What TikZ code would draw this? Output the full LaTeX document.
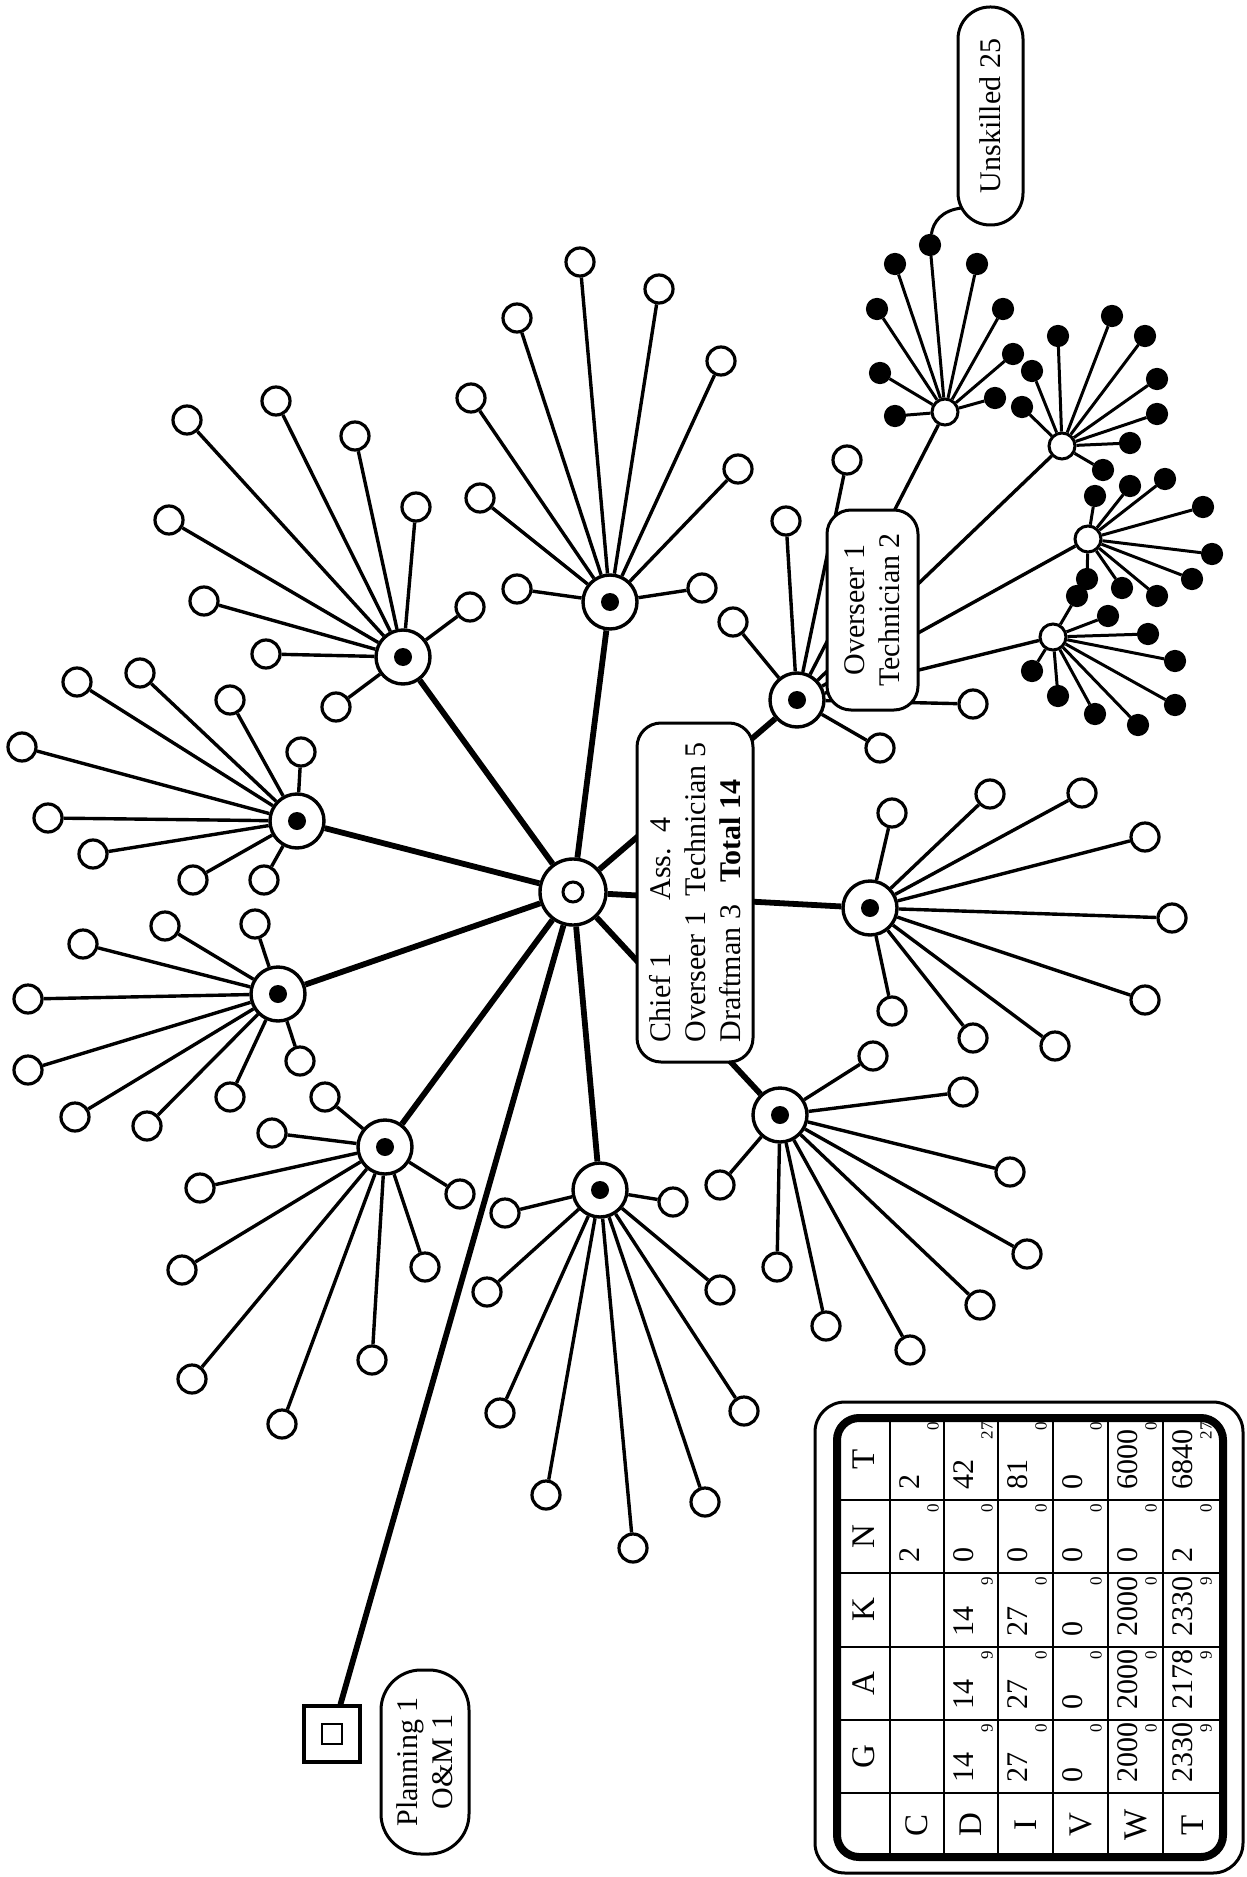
\documentclass[tikz,border=0pt]{standalone}
\usepackage{fontspec}
\setmainfont{Liberation Serif}
\begin{document}
\begin{tikzpicture}[x=0.5pt,y=-0.5pt,
  leaf/.style={circle,draw,line width=1.6pt,fill=white,minimum size=14pt,inner sep=0pt},
  hub/.style={circle,draw,line width=1.7pt,fill=white,minimum size=27pt,inner sep=0pt},
  hubdot/.style={circle,fill=black,minimum size=9pt,inner sep=0pt},
  subhub/.style={circle,draw,line width=1.5pt,fill=white,minimum size=13pt,inner sep=0pt},
  blk/.style={circle,draw,fill=black,line width=0.6pt,minimum size=10.5pt,inner sep=0pt},
  mainline/.style={line width=2.9pt},
  leafline/.style={line width=1.7pt},
  blkline/.style={line width=1.5pt},
  tag/.style={draw,rounded corners=12pt,line width=1.5pt,fill=white,rotate=90,
              font=\fontsize{15}{17.5}\selectfont,inner sep=0pt},
  cellnum/.style={rotate=90,font=\fontsize{15}{17}\selectfont,inner sep=0pt},
  cellsmall/.style={rotate=90,font=\fontsize{8.5}{9}\selectfont,inner sep=0pt},
  hdr/.style={rotate=90,font=\fontsize{16.5}{18}\selectfont,inner sep=0pt},
  gridline/.style={line width=1.4pt}
]
\fill[white] (0,0) rectangle (1246,1877);
\useasboundingbox (0,0) rectangle (1246,1877);

% centre
\node[circle,draw,line width=1.7pt,fill=white,minimum size=33pt,inner sep=0pt] (c0) at (573,892) {};
\node[circle,draw,line width=1.5pt,minimum size=10pt,inner sep=0pt] (c0i) at (573,892) {};

% hubs
\foreach \n/\x/\y in {h1/403/657, h2/610/602, h3/297/821, h4/278/994, h5/385/1147,
                      h6/600/1190, h7/780/1115, h8/870/908, h9/797/700} {
  \node[hub] (\n) at (\x,\y) {};
  \node[hubdot] (d\n) at (\x,\y) {};
}
\foreach \n in {h1,h2,h3,h4,h5,h6,h7,h8,h9} \draw[mainline] (c0) -- (\n);

% planning square
\node[draw,line width=1.6pt,minimum size=28pt,inner sep=0pt] (sq) at (332,1734) {};
\node[draw,line width=1.3pt,minimum size=10pt,inner sep=0pt] (sqi) at (332,1734) {};
\draw[mainline] (c0) -- (sq);

% leaves
\foreach \x/\y [count=\i] in {187/420, 276/401, 355/436, 416/507, 470/607, 169/520, 204/601, 266/654, 336/707}
  {\node[leaf] (h1l\i) at (\x,\y) {}; \draw[leafline] (h1) -- (h1l\i);}
\foreach \x/\y [count=\i] in {580/262, 659/289, 517/318, 721/361, 471/398, 738/469, 480/498, 517/589, 702/588}
  {\node[leaf] (h2l\i) at (\x,\y) {}; \draw[leafline] (h2) -- (h2l\i);}
\foreach \x/\y [count=\i] in {77/682, 140/673, 230/700, 301/752, 22/747, 48/818, 93/854, 193/880, 264/880}
  {\node[leaf] (h3l\i) at (\x,\y) {}; \draw[leafline] (h3) -- (h3l\i);}
\foreach \x/\y [count=\i] in {165/926, 255/924, 83/944, 28/999, 28/1070, 75/1117, 147/1126, 230/1097, 300/1061}
  {\node[leaf] (h4l\i) at (\x,\y) {}; \draw[leafline] (h4) -- (h4l\i);}
\foreach \x/\y [count=\i] in {325/1097, 272/1133, 200/1188, 182/1270, 192/1379, 282/1424, 372/1360, 425/1267, 460/1194}
  {\node[leaf] (h5l\i) at (\x,\y) {}; \draw[leafline] (h5) -- (h5l\i);}
\foreach \x/\y [count=\i] in {505/1213, 487/1292, 500/1413, 546/1495, 633/1548, 705/1502, 744/1411, 720/1290, 673/1202}
  {\node[leaf] (h6l\i) at (\x,\y) {}; \draw[leafline] (h6) -- (h6l\i);}
\foreach \x/\y [count=\i] in {720/1185, 777/1267, 826/1326, 910/1350, 980/1305, 1027/1254, 1010/1172, 963/1092, 873/1056}
  {\node[leaf] (h7l\i) at (\x,\y) {}; \draw[leafline] (h7) -- (h7l\i);}
\foreach \x/\y [count=\i] in {892/813, 990/794, 1082/793, 1145/837, 1172/918, 1145/1000, 1055/1046, 973/1038, 892/1011}
  {\node[leaf] (h8l\i) at (\x,\y) {}; \draw[leafline] (h8) -- (h8l\i);}
\foreach \x/\y [count=\i] in {733/622, 786/521, 847/460, 880/748, 973/704}
  {\node[leaf] (h9l\i) at (\x,\y) {}; \draw[leafline] (h9) -- (h9l\i);}

% sub hubs of the unskilled
\foreach \n/\x/\y in {s1/945/412, s2/1062/446, s3/1088/539, s4/1053/637}
  {\node[subhub] (\n) at (\x,\y) {}; \draw[leafline] (h9) -- (\n);}
\foreach \x/\y [count=\i] in {895/416, 880/373, 877/309, 895/264, 930/245, 977/264, 1003/309, 1013/354, 995/398}
  {\node[blk] (s1l\i) at (\x,\y) {}; \draw[blkline] (s1) -- (s1l\i);}
\foreach \x/\y [count=\i] in {1058/336, 1112/316, 1145/336, 1157/379, 1157/414, 1130/443, 1103/470, 1032/371, 1022/407}
  {\node[blk] (s2l\i) at (\x,\y) {}; \draw[blkline] (s2) -- (s2l\i);}
\foreach \x/\y [count=\i] in {1095/496, 1130/486, 1165/479, 1203/507, 1212/554, 1192/579, 1157/596, 1122/588, 1087/579}
  {\node[blk] (s3l\i) at (\x,\y) {}; \draw[blkline] (s3) -- (s3l\i);}
\foreach \x/\y [count=\i] in {1077/596, 1108/616, 1148/634, 1175/661, 1175/705, 1138/725, 1095/714, 1058/696, 1032/671}
  {\node[blk] (s4l\i) at (\x,\y) {}; \draw[blkline] (s4) -- (s4l\i);}

% labels
\node[tag,minimum width=169.5pt,minimum height=58pt,align=left] (mainlab) at (695,892.5)
  {\makebox[71pt][l]{Chief 1}Ass.\enspace 4\\
   \makebox[73pt][l]{Overseer 1}Technician 5\\
   \makebox[80pt][l]{Draftman 3}\textbf{Total 14}};
\node[tag,minimum width=100pt,minimum height=45.5pt,align=center] (ov) at (872.5,610) {Overseer 1\\Technician 2};
\node[tag,rounded corners=16pt,minimum width=109pt,minimum height=32.5pt] (unsk) at (990.5,116) {Unskilled 25};
\coordinate (uj) at (962,208);
\draw[blkline] (s1l5) .. controls (933,222) and (942,210) .. (uj);
\node[tag,rounded corners=20pt,minimum width=92pt,minimum height=44pt,align=center] (plan) at (425,1762) {Planning 1\\O\&M 1};

% table
\draw[line width=1.5pt,rounded corners=15pt] (815,1402) rectangle (1243,1873);
\draw[line width=4pt,rounded corners=11pt] (837,1418) rectangle (1223,1857);
\foreach \x in {890,944,998,1053,1108,1163} \draw[gridline] (\x,1418) -- (\x,1857);
\foreach \y in {1500,1573,1647,1720,1793} \draw[gridline] (837,\y) -- (1223,\y);
\foreach \t/\y in {G/1756.5, A/1683.5, K/1610, N/1536.5, T/1459}
  \node[hdr] (hd\t) at (863.5,\y) {\t};
\foreach \t/\x [count=\i] in {C/917, D/971, I/1025.5, V/1080.5, W/1135.5, T/1193}
  \node[hdr] (rw\i) at (\x,1825) {\t};
\foreach \cx/\yb/\ya/\m/\s [count=\i] in {
  890/1573/1500/2/0, 890/1500/1418/2/0,
  944/1793/1720/14/9, 944/1720/1647/14/9, 944/1647/1573/14/9, 944/1573/1500/0/0, 944/1500/1418/42/27,
  998/1793/1720/27/0, 998/1720/1647/27/0, 998/1647/1573/27/0, 998/1573/1500/0/0, 998/1500/1418/81/0,
  1053/1793/1720/0/0, 1053/1720/1647/0/0, 1053/1647/1573/0/0, 1053/1573/1500/0/0, 1053/1500/1418/0/0,
  1108/1793/1720/2000/0, 1108/1720/1647/2000/0, 1108/1647/1573/2000/0, 1108/1573/1500/0/0, 1108/1500/1418/6000/0,
  1163/1793/1720/2330/9, 1163/1720/1647/2178/9, 1163/1647/1573/2330/9, 1163/1573/1500/2/0, 1163/1500/1418/6840/27} {
  \node[cellnum,anchor=west] (cm\i) at (\cx+20,\yb-10) {\m};
  \node[cellsmall,anchor=east] (cs\i) at (\cx+43,\ya+4) {\s};
}
\end{tikzpicture}
\end{document}
